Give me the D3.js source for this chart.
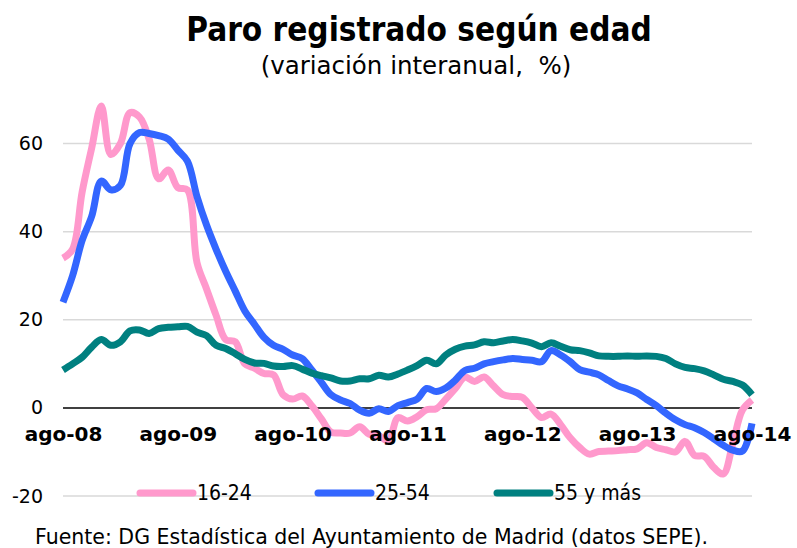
<!DOCTYPE html>
<html>
<head>
<meta charset="utf-8">
<script src="https://cdn.jsdelivr.net/npm/d3@7"></script>
<style>
  body { margin: 0; background: #fff; }
  text { font-family: "DejaVu Sans", Verdana, sans-serif; }
</style>
</head>
<body>
<div id="chart"></div>
<script>
// monthly series, ago-08 .. ago-14 (73 months)
let joven = [34, 36, 49, 59, 68.5, 57.5, 60, 67, 66, 61, 52, 54, 50, 49.5, 33, 27, 21, 15.5, 15, 10,
  9, 7.8, 7.5, 3, 2, 2.7, 0.5, -2.5, -5.5, -5.7, -5.7, -4.3, -6, -6.3, -7.5, -2.2, -3, -2, -0.4, -0.2,
  2, 4.4, 7, 6, 7, 5, 3, 2.6, 2.4, 0, -2.2, -1.4, -3.8, -6.8, -9, -10.5, -9.9, -9.8, -9.7, -9.5,
  -9.3, -7.9, -9, -9.5, -10, -7.6, -10.8, -11, -13.5, -15, -8, -0.5, 1.8]
let adulto = [24, 30, 38, 43.5, 51.5, 49.5, 50.5, 60, 62.5, 62.3, 61.8, 61, 58.5, 56, 48, 41.5, 36, 31, 26.5, 22,
  19, 16, 14.2, 13.3, 12, 11.2, 8.6, 5.8, 3, 1.8, 1, -0.5, -1.2, -0.2, -0.8, 0.5, 1.2, 2, 4.4, 3.7,
  4.5, 6.3, 8.5, 9, 10, 10.5, 10.9, 11.2, 11, 10.8, 10.5, 13, 12, 10.5, 8.7, 8.1, 7.5, 6.2, 5, 4.3,
  3.4, 1.9, 0.5, -1.2, -2.7, -3.8, -4.5, -5.6, -7, -8.5, -9.6, -9.8, -3.5]
let mayor = [8.6, 10, 11.5, 13.8, 15.5, 14.2, 15, 17.5, 17.7, 16.9, 18, 18.3, 18.4, 18.5, 17.2, 16.4, 14.2, 13.5, 12.3, 11,
  10.2, 10.1, 9.5, 9.4, 9.6, 8.8, 7.9, 7.3, 6.8, 6.1, 6.1, 6.6, 6.6, 7.4, 7, 7.7, 8.6, 9.6, 10.8, 10,
  12, 13.3, 14, 14.3, 15, 14.8, 15.2, 15.5, 15.2, 14.7, 13.9, 14.8, 14, 13.2, 13, 12.5, 11.8, 11.7, 11.7, 11.8,
  11.7, 11.8, 11.7, 11.2, 10, 9.2, 8.9, 8.4, 7.5, 6.5, 6, 5.2, 3]

let seriesNames = ["16-24", "25-54", "55 y más"]
let seriesColors = ["#ff99cc", "#3366ff", "#008080"]
let xTickLabels = ["ago-08", "ago-09", "ago-10", "ago-11", "ago-12", "ago-13", "ago-14"]
let yTicks = [-20, 0, 20, 40, 60]

let width = 797, height = 548
let margin = {top: 99.5, right: 45, bottom: 52, left: 63}

let svg = d3.select("#chart").append("svg")
    .attr("width", width)
    .attr("height", height)

let xScale = d3.scaleLinear()
    .domain([0, joven.length - 1])
    .range([margin.left, width - margin.right])

let yScale = d3.scaleLinear()
    .domain([-20, 70])
    .range([height - margin.bottom, margin.top])

// title
svg.append("text")
  .attr("x", 419).attr("y", 41)
  .attr("text-anchor", "middle")
  .style("font-family", "'DejaVu Sans Condensed', 'DejaVu Sans', sans-serif")
  .style("font-weight", "bold")
  .style("font-size", "33px")
  .text("Paro registrado según edad")

svg.append("text")
  .attr("x", 416).attr("y", 74)
  .attr("text-anchor", "middle")
  .style("font-size", "24.5px")
  .style("white-space", "pre")
  .text("(variación interanual,  %)")

// gridlines
svg.append("g")
  .selectAll("line")
  .data(yTicks.filter(d => d !== 0))
  .enter().append("line")
  .attr("x1", xScale.range()[0]).attr("x2", xScale.range()[1])
  .attr("y1", d => yScale(d)).attr("y2", d => yScale(d))
  .attr("stroke", "#d9d9d9")
  .attr("stroke-width", 1.5)

// y axis labels
let yAxis = d3.axisLeft(yScale).tickValues(yTicks).tickSize(0).tickPadding(20)
  .tickFormat(d => String(d))
let yG = svg.append("g")
  .attr("transform", "translate(" + margin.left + ",0)")
  .call(yAxis)
yG.select(".domain").remove()
yG.selectAll("text")
  .style("font-family", "'DejaVu Sans', sans-serif")
  .style("font-size", "19px")
  .attr("fill", "#000")

// zero line
svg.append("line")
  .attr("x1", xScale.range()[0]).attr("x2", xScale.range()[1])
  .attr("y1", yScale(0)).attr("y2", yScale(0))
  .attr("stroke", "#000")
  .attr("stroke-width", 1.5)

// lines
let line = d3.line()
  .x((d, i) => xScale(i))
  .y(d => yScale(d))
  .curve(d3.curveCatmullRom.alpha(0.5))

let allSeries = [joven, adulto, mayor]
svg.append("g")
  .selectAll("path")
  .data(allSeries)
  .enter().append("path")
  .attr("d", d => line(d))
  .attr("fill", "none")
  .attr("stroke", (d, i) => seriesColors[i])
  .attr("stroke-width", 7)
  .attr("stroke-linejoin", "round")

// x axis labels (drawn over the lines)
let xAxis = d3.axisBottom(xScale)
  .tickValues(xTickLabels.map((d, i) => i * 12))
  .tickFormat((d, i) => xTickLabels[i])
  .tickSize(0).tickPadding(19)
let xG = svg.append("g")
  .attr("transform", "translate(0," + yScale(0) + ")")
  .call(xAxis)
xG.select(".domain").remove()
xG.selectAll("text")
  .style("font-family", "'DejaVu Sans', sans-serif")
  .style("font-weight", "bold")
  .style("font-size", "20px")
  .attr("fill", "#000")

// legend
let legendX = [140, 318, 497]
let legend = svg.append("g")
  .selectAll("g")
  .data(seriesNames)
  .enter().append("g")
  .attr("transform", (d, i) => "translate(" + legendX[i] + "," + 493 + ")")
legend.append("line")
  .attr("x1", 0).attr("x2", 53)
  .attr("stroke", (d, i) => seriesColors[i])
  .attr("stroke-width", 7)
  .attr("stroke-linecap", "round")
legend.append("text")
  .attr("x", 57).attr("y", 7)
  .style("font-family", "'DejaVu Sans Condensed', 'DejaVu Sans', sans-serif")
  .style("font-size", "21px")
  .text(d => d)

// source
svg.append("text")
  .attr("x", 35).attr("y", 544)
  .style("font-size", "20.5px")
  .text("Fuente: DG Estadística del Ayuntamiento de Madrid (datos SEPE).")
</script>
</body>
</html>
